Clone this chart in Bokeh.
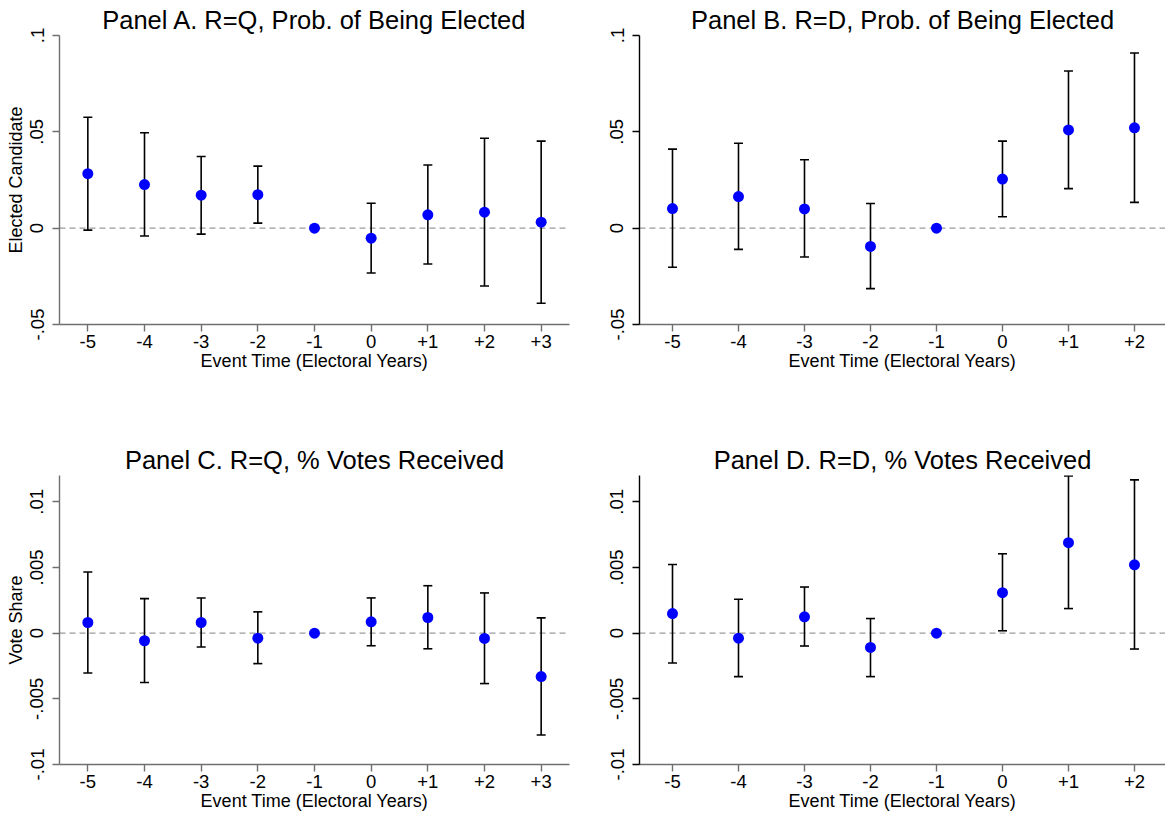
import math
from bokeh.plotting import figure
from bokeh.layouts import column, row
from bokeh.models import Range1d, FixedTicker, Span, ColumnDataSource
from bokeh.embed import file_html
from bokeh.resources import INLINE

NaN = float("nan")

# ---------------- data ----------------
event_time_q = [-5, -4, -3, -2, -1, 0, 1, 2, 3]
event_labels_q = ["-5", "-4", "-3", "-2", "-1", "0", "+1", "+2", "+3"]
event_time_d = [-5, -4, -3, -2, -1, 0, 1, 2]
event_labels_d = ["-5", "-4", "-3", "-2", "-1", "0", "+1", "+2"]

# Panel A: R=Q, probability of being elected
a_coef = [0.0283, 0.0226, 0.0171, 0.0174, 0.0, -0.0052, 0.0069, 0.0083, 0.0031]
a_upper = [0.0576, 0.0495, 0.0372, 0.0322, NaN, 0.0129, 0.0328, 0.0467, 0.0452]
a_lower = [-0.0010, -0.0041, -0.0031, 0.0026, NaN, -0.0233, -0.0186, -0.0300, -0.0390]

# Panel B: R=D, probability of being elected
b_coef = [0.0102, 0.0164, 0.0100, -0.0095, 0.0, 0.0255, 0.0510, 0.0521]
b_upper = [0.0410, 0.0441, 0.0355, 0.0128, NaN, 0.0452, 0.0816, 0.0909]
b_lower = [-0.0203, -0.0110, -0.0150, -0.0314, NaN, 0.0059, 0.0205, 0.0134]

# Panel C: R=Q, % votes received
c_coef = [0.00081, -0.00058, 0.00081, -0.00038, 0.0, 0.00086, 0.00119, -0.00040, -0.00331]
c_upper = [0.00465, 0.00263, 0.00268, 0.00162, NaN, 0.00268, 0.00361, 0.00306, 0.00116]
c_lower = [-0.00303, -0.00376, -0.00106, -0.00232, NaN, -0.00096, -0.00119, -0.00384, -0.00775]

# Panel D: R=D, % votes received
d_coef = [0.00149, -0.00038, 0.00124, -0.00109, 0.0, 0.00308, 0.00689, 0.00520]
d_upper = [0.00523, 0.00258, 0.00351, 0.00111, NaN, 0.00604, 0.01197, 0.01167]
d_lower = [-0.00227, -0.00331, -0.00098, -0.00331, NaN, 0.00018, 0.00187, -0.00121]

yticks_elected = [-0.05, 0.0, 0.05, 0.1]
ylabels_elected = ["-.05", "0", ".05", ".1"]
yticks_votes = [-0.01, -0.005, 0.0, 0.005, 0.01]
ylabels_votes = ["-.01", "-.005", "0", ".005", ".01"]

titles = [
    "Panel A. R=Q, Prob. of Being Elected",
    "Panel B. R=D, Prob. of Being Elected",
    "Panel C. R=Q, % Votes Received",
    "Panel D. R=D, % Votes Received",
]
xlabel = "Event Time (Electoral Years)"
ylabel_top = "Elected Candidate"
ylabel_bot = "Vote Share"

FONT = "Liberation Sans"
AXIS_GRAY = "#6f6f6f"


def panel(title, xs, coef, lo, hi, xlabels, xrange, yticks, ylabels, yrange,
          ylab, width, height, bl, br, bt, bb, ycolor):
    p = figure(width=width, height=height, output_backend="svg",
               toolbar_location=None, x_range=Range1d(*xrange),
               y_range=Range1d(*yrange),
               min_border_left=bl, min_border_right=br,
               min_border_top=bt, min_border_bottom=bb)
    p.background_fill_color = "white"
    p.border_fill_color = "white"
    p.outline_line_color = None
    p.xgrid.visible = False
    p.ygrid.visible = False

    zero = Span(location=0, dimension="width", line_color="#9a9a9a",
                line_dash="6 4", line_width=1.2, level="underlay")
    p.add_layout(zero)

    src = ColumnDataSource(dict(x=xs, y=coef, lo=lo, hi=hi))
    p.segment(x0="x", y0="lo", x1="x", y1="hi", source=src,
              line_color="black", line_width=1.6)
    p.scatter(x="x", y="hi", source=src, marker="dash", size=9,
              line_color="black", line_width=1.6)
    p.scatter(x="x", y="lo", source=src, marker="dash", size=9,
              line_color="black", line_width=1.6)
    p.scatter(x="x", y="y", source=src, marker="circle", size=11,
              fill_color="#0000ff", line_color=None)

    # axes
    p.xaxis.ticker = FixedTicker(ticks=list(xs))
    p.xaxis.major_label_overrides = {x: l for x, l in zip(xs, xlabels)}
    p.yaxis.ticker = FixedTicker(ticks=list(yticks))
    p.yaxis.major_label_overrides = {y: l for y, l in zip(yticks, ylabels)}
    p.yaxis.major_label_orientation = "vertical"

    for ax, col in ((p.xaxis, AXIS_GRAY), (p.yaxis, ycolor)):
        ax.axis_line_color = col
        ax.axis_line_width = 1.4
        ax.major_tick_line_color = col
        ax.major_tick_line_width = 1.4
        ax.major_tick_out = 7
        ax.major_tick_in = 0
        ax.minor_tick_line_color = None
        ax.major_label_text_font = FONT
        ax.major_label_text_font_size = "18.5px"
        ax.major_label_text_color = "black"
        ax.axis_label_text_font = FONT
        ax.axis_label_text_font_size = "18px"
        ax.axis_label_text_font_style = "normal"
        ax.axis_label_text_color = "black"

    p.xaxis.axis_label = xlabel
    p.xaxis.major_label_standoff = 3
    p.xaxis.axis_label_standoff = 0
    p.yaxis.major_label_standoff = 9
    p.yaxis.axis_label_standoff = 2
    if ylab:
        p.yaxis.axis_label = ylab

    p.title.text = title
    p.title.align = "center"
    p.title.text_font = FONT
    p.title.text_font_size = "25.5px"
    p.title.text_font_style = "normal"
    p.title.text_color = "black"
    p.title.standoff = 4
    return p


pa = panel(titles[0], event_time_q, a_coef, a_lower, a_upper, event_labels_q,
           (-5.5, 3.5), yticks_elected, ylabels_elected, (-0.05, 0.1),
           ylabel_top, 600, 405, 59, 31, 35, 81, AXIS_GRAY)
pb = panel(titles[1], event_time_d, b_coef, b_lower, b_upper, event_labels_d,
           (-5.5, 2.47), yticks_elected, ylabels_elected, (-0.05, 0.1),
           None, 565, 405, 39, 0, 35, 81, "black")
pc = panel(titles[2], event_time_q, c_coef, c_lower, c_upper, event_labels_q,
           (-5.5, 3.5), yticks_votes, ylabels_votes, (-0.01, 0.012),
           ylabel_bot, 600, 410, 59, 31, 70, 51, AXIS_GRAY)
pd_ = panel(titles[3], event_time_d, d_coef, d_lower, d_upper, event_labels_d,
            (-5.5, 2.47), yticks_votes, ylabels_votes, (-0.01, 0.012),
            None, 565, 410, 39, 0, 70, 51, "black")

layout = column(row(pa, pb), row(pc, pd_))

open("out.html", "w").write(file_html(layout, INLINE))
